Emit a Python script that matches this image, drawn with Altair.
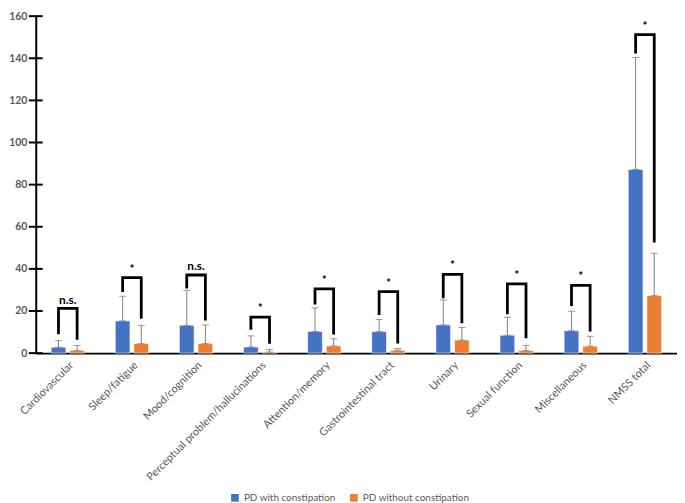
import altair as alt
import pandas as pd

categories = ["Cardiovascular", "Sleep/fatigue", "Mood/cognition",
              "Perceptual problem/hallucinations", "Attention/memory",
              "Gastrointestinal tract", "Urinary", "Sexual function",
              "Miscellaneous", "NMSS total"]
groups = ["PD with  constipation", "PD without constipation"]
with_mean = [2.8, 15.3, 13.2, 2.9, 10.3, 10.2, 13.4, 8.5, 10.6, 87.2]
with_upper = [5.9, 27.0, 29.8, 8.2, 21.5, 16.0, 25.3, 17.0, 19.9, 140.4]
without_mean = [1.3, 4.5, 4.5, 0.5, 3.4, 1.3, 6.2, 1.2, 3.3, 27.3]
without_upper = [3.6, 13.2, 13.4, 1.7, 6.8, 2.2, 12.2, 3.7, 8.0, 47.4]
bracket_top = [21.2, 35.9, 37.1, 17.1, 30.5, 29.2, 37.4, 32.9, 32.2, 151.2]
bracket_left = [9.0, 29.0, 30.7, 11.1, 23.1, 18.1, 26.0, 18.5, 22.4, 142.3]
bracket_right = [6.3, 16.3, 15.5, 4.5, 8.8, 4.6, 14.2, 7.1, 10.3, 52.5]
significance = ["n.s.", "*", "n.s.", "*", "*", "*", "*", "*", "*", "*"]
y_ticks = [0, 20, 40, 60, 80, 100, 120, 140, 160]
colors = ["#4472C4", "#ED7D31"]

rows = []
for i, c in enumerate(categories):
    rows.append({"category": c, "group": groups[0], "mean": with_mean[i], "upper": with_upper[i]})
    rows.append({"category": c, "group": groups[1], "mean": without_mean[i], "upper": without_upper[i]})
bars_df = pd.DataFrame(rows)

path_rows = []
for i, c in enumerate(categories):
    path_rows += [
        {"category": c, "group": groups[0], "y": bracket_left[i], "o": 0},
        {"category": c, "group": groups[0], "y": bracket_top[i], "o": 1},
        {"category": c, "group": groups[1], "y": bracket_top[i], "o": 2},
        {"category": c, "group": groups[1], "y": bracket_right[i], "o": 3},
    ]
path_df = pd.DataFrame(path_rows)
label_df = pd.DataFrame({"category": categories, "top": bracket_top, "sig": significance})
tick_df = pd.DataFrame({"v": y_ticks})

x_enc = alt.X("category:N", sort=categories, title=None,
              scale=alt.Scale(paddingInner=0.48, paddingOuter=0.24),
              axis=alt.Axis(labelAngle=-45, labelAlign="right", labelBaseline="top",
                            ticks=False, domainColor="black", domainWidth=2,
                            labelColor="#595959", labelFont="Lato", labelFontSize=11,
                            labelPadding=6, labelLimit=300))
xoff = alt.XOffset("group:N", sort=groups, scale=alt.Scale(paddingInner=0.21, paddingOuter=0))
y_scale = alt.Scale(domain=[0, 160], nice=False)
y_axis = alt.Axis(values=y_ticks, grid=False, ticks=False, domainColor="black", domainWidth=2,
                  labelColor="#595959", labelFont="Lato", labelFontSize=10.5,
                  labelFontWeight="bold", labelPadding=9)
color = alt.Color("group:N", sort=groups, scale=alt.Scale(domain=groups, range=colors),
                  legend=alt.Legend(title=None, orient="none", direction="horizontal",
                                    legendX=196, legendY=481, symbolType="square",
                                    symbolSize=60, symbolStrokeWidth=0,
                                    labelFont="Lato", labelFontSize=10,
                                    labelColor="#595959", columnPadding=10,
                                    labelOffset=4))

bars = alt.Chart(bars_df).mark_bar(stroke="white", strokeWidth=0.6).encode(
    x=x_enc, xOffset=xoff,
    y=alt.Y("mean:Q", scale=y_scale, axis=y_axis, title=None),
    color=color)

err = alt.Chart(bars_df).mark_rule(color="#7f7f7f", strokeWidth=1).encode(
    x=alt.X("category:N", sort=categories), xOffset=xoff,
    y="mean:Q", y2="upper:Q")
cap_top = alt.Chart(bars_df).mark_tick(color="#6f6f6f", size=7, thickness=1).encode(
    x=alt.X("category:N", sort=categories), xOffset=xoff, y="upper:Q")
cap_bot = alt.Chart(bars_df).mark_tick(color="#6f6f6f", size=7, thickness=1).encode(
    x=alt.X("category:N", sort=categories), xOffset=xoff, y="mean:Q")

brackets = alt.Chart(path_df).mark_line(color="black", strokeWidth=2.8, strokeJoin="miter",
                                        strokeCap="butt").encode(
    x=alt.X("category:N", sort=categories), xOffset=alt.XOffset("group:N", sort=groups),
    y="y:Q", detail="category:N", order="o:Q")

labels = alt.Chart(label_df).mark_text(font="Lato", fontWeight="bold", fontSize=12,
                                       color="black", dy=-9).encode(
    x=alt.X("category:N", sort=categories), y="top:Q", text="sig:N")

yticks = alt.Chart(tick_df).mark_rule(color="black", strokeWidth=2).encode(
    x=alt.value(-7), x2=alt.value(7), y="v:Q")

chart = alt.layer(bars, err, cap_top, cap_bot, brackets, labels, yticks).properties(
    width=647, height=340,
    autosize=alt.AutoSizeParams(type="none"),
    padding={"left": 28, "top": 6, "right": 0, "bottom": 150},
).configure_view(stroke=None)

chart.save("out.html", embed_options={"renderer": "svg", "actions": False})
